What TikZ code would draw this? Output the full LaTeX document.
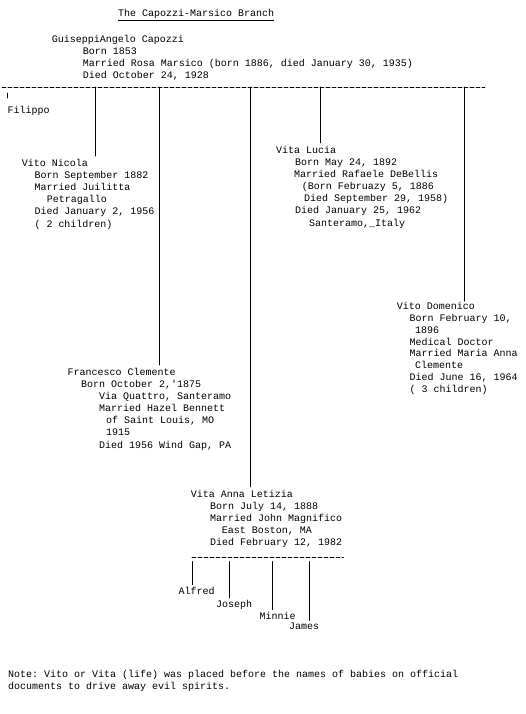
\documentclass[tikz,border=0pt]{standalone}
\usepackage{fontspec}
\setmonofont{Liberation Mono}
\usetikzlibrary{calc}

\tikzset{
    typed/.style={font=\ttfamily\fontsize{10}{12.1}\selectfont, inner sep=0pt,
        anchor=base west, align=left},
    stem/.style={line width=0.8pt},
    rule/.style={line width=0.7pt, dash pattern=on 4pt off 2pt}
}

\begin{document}
\begin{tikzpicture}[x=1pt, y=-1pt, line cap=round, line join=round]

    \useasboundingbox (0,0) rectangle (526,714);

    % Puntos sobre las barras
    \coordinate (bar-w) at (2,87);
    \coordinate (bar-e) at (485,87);
    \coordinate (bar-nicola) at (95.5,87);
    \coordinate (bar-francesco) at (159.5,87);
    \coordinate (bar-anna) at (250.5,87);
    \coordinate (bar-lucia) at (320.5,87);
    \coordinate (bar-domenico) at (464,87);
    \coordinate (tick-filippo) at (7.5,93);
    \coordinate (sub-w) at (192,557.5);
    \coordinate (sub-e) at (343.5,557.5);
    \coordinate (sub-alfred) at (192.3,561.5);
    \coordinate (sub-joseph) at (229.3,561.5);
    \coordinate (sub-minnie) at (272.3,561.5);
    \coordinate (sub-james) at (309.3,561.5);

    % Titulo y padre (los bloques se anclan en su ultima linea)
    \node[typed] (title) at (118,17) {\underline{The Capozzi-Marsico Branch}};
    \node[typed] (guiseppi) at (51.7,78.7) {GuiseppiAngelo Capozzi\\
        \hspace*{31pt}Born 1853\\
        \hspace*{31pt}Married Rosa Marsico (born 1886, died January 30, 1935)\\
        \hspace*{31pt}Died October 24, 1928};

    % Hijos
    \node[typed] (filippo) at (7.3,114) {Filippo};
    \node[typed] (nicola) at (21.7,227) {Vito Nicola\\
        \hspace*{12.6pt}Born September 1882\\
        \hspace*{12.6pt}Married Juilitta\\
        \hspace*{25pt}Petragallo\\
        \hspace*{12.6pt}Died January 2, 1956\\
        \hspace*{12.6pt}( 2 children)};
    \node[typed] (lucia) at (276,226) {Vita Lucia\\
        \hspace*{19pt}Born May 24, 1892\\
        \hspace*{18pt}Married Rafaele DeBellis\\
        \hspace*{25.7pt}(Born Februazy 5, 1886\\
        \hspace*{28pt}Died September 29, 1958)\\
        \hspace*{19pt}Died January 25, 1962\\
        \hspace*{33pt}Santeramo,\_Italy};
    \node[typed, font=\ttfamily\fontsize{10}{11.8}\selectfont]
        (domenico) at (396.7,392.3) {Vito Domenico\\
        \hspace*{12.6pt}Born February 10,\\
        \hspace*{18.3pt}1896\\
        \hspace*{12.6pt}Medical Doctor\\
        \hspace*{12.6pt}Married Maria Anna\\
        \hspace*{18.3pt}Clemente\\
        \hspace*{12.6pt}Died June 16, 1964\\
        \hspace*{12.6pt}( 3 children)};
    \node[typed] (francesco) at (67.3,448) {Francesco Clemente\\
        \hspace*{13.7pt}Born October 2,'1875\\
        \hspace*{31.7pt}Via Quattro, Santeramo\\
        \hspace*{31.7pt}Married Hazel Bennett\\
        \hspace*{38.7pt}of Saint Louis, MO\\
        \hspace*{38.7pt}1915\\
        \hspace*{31.7pt}Died 1956 Wind Gap, PA};
    \node[typed] (anna) at (190.7,545.7) {Vita Anna Letizia\\
        \hspace*{19.3pt}Born July 14, 1888\\
        \hspace*{19.3pt}Married John Magnifico\\
        \hspace*{31pt}East Boston, MA\\
        \hspace*{19.3pt}Died February 12, 1982};

    % Nietos
    \node[typed] (alfred) at (178.3,594) {Alfred};
    \node[typed] (joseph) at (216,607.3) {Joseph};
    \node[typed] (minnie) at (259.3,619) {Minnie};
    \node[typed] (james) at (289,629.3) {James};

    % Barras y lineas
    \draw[rule] (bar-w) -- (bar-e);
    \draw[rule] (sub-w) -- (sub-e);
    \draw[stem] (tick-filippo) -- ++(0,5);
    \foreach \who in {nicola, francesco, anna, lucia}
        \draw[stem] (bar-\who) -- ([yshift=3pt]bar-\who |- \who.north);
    \draw[stem] (bar-domenico) -- ([yshift=1pt]bar-domenico |- domenico.north);
    \foreach \who in {alfred, joseph, minnie, james}
        \draw[stem] (sub-\who) -- ([yshift=2pt]sub-\who |- \who.north);

    % Nota
    \node[typed] (note) at (8,689.7) {Note: Vito or Vita (life) was placed
        before the names of babies on official\\
        documents to drive away evil spirits.};

\end{tikzpicture}
\end{document}
